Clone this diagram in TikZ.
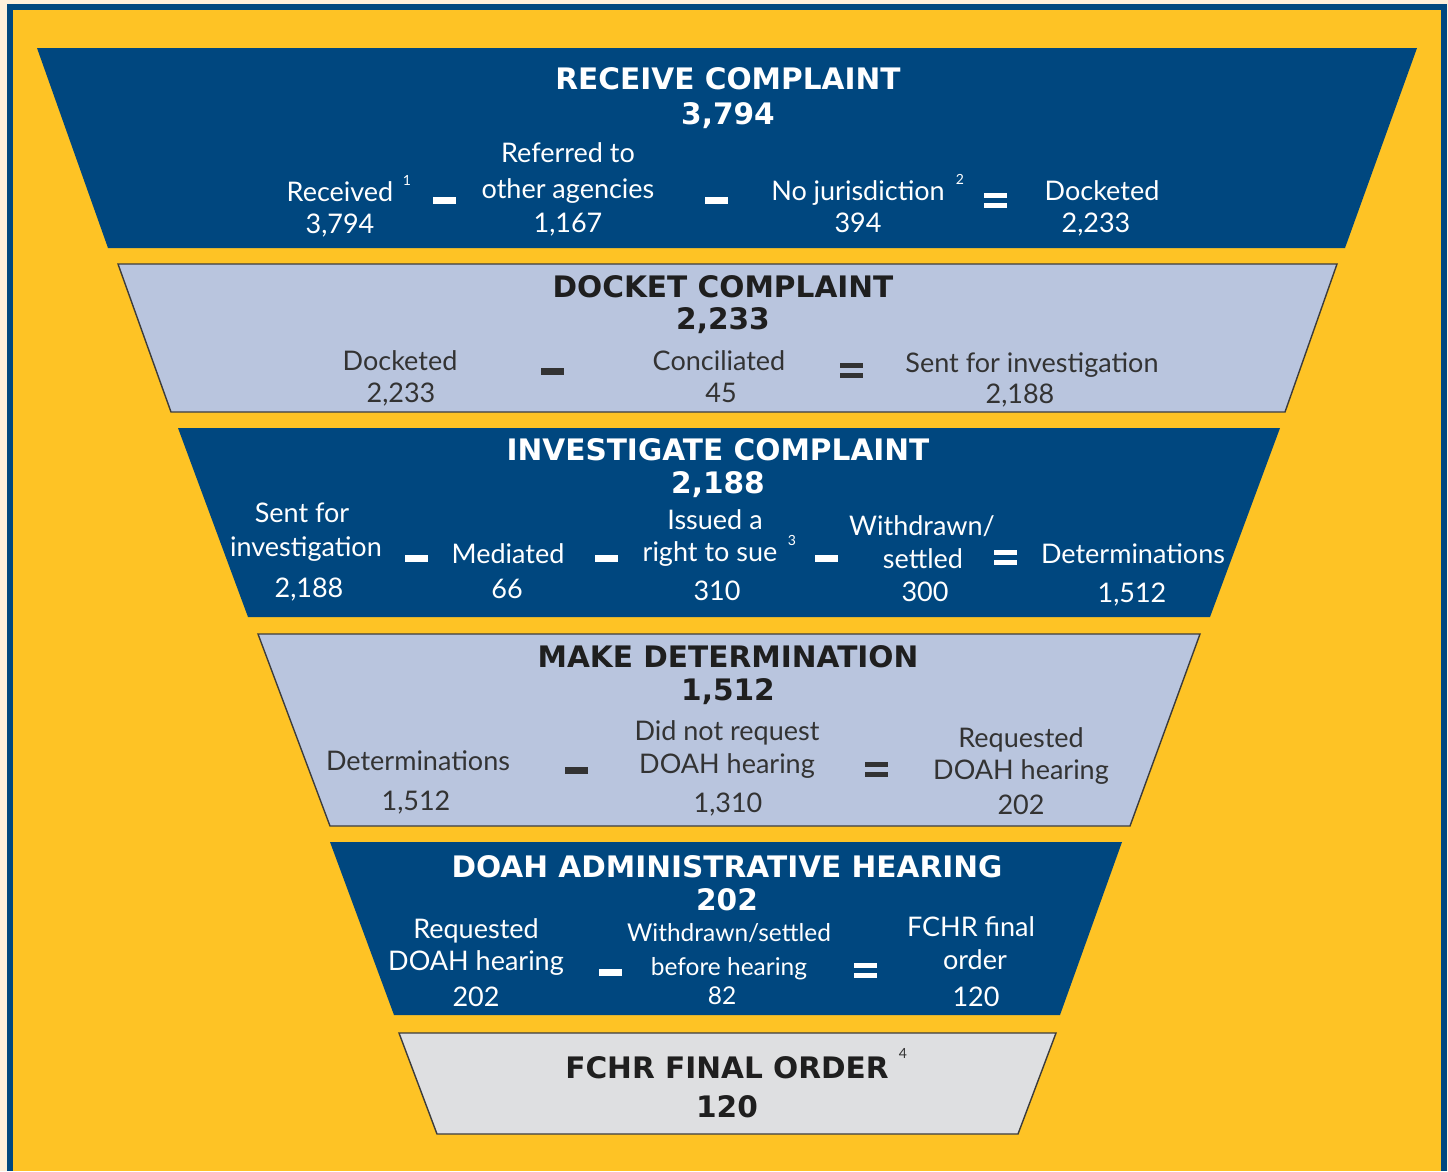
\documentclass[tikz,border=0pt]{standalone}
\usepackage{fontspec}
\setmainfont{Lato}
\newfontfamily\headfont{DejaVu Sans}
\definecolor{cream}{HTML}{FDEFDB}
\definecolor{gold}{HTML}{FEC325}
\definecolor{navy}{HTML}{00477F}
\definecolor{paleblue}{HTML}{B9C5DE}
\definecolor{palegray}{HTML}{DEDFE1}
\definecolor{ink}{HTML}{333333}
\definecolor{edge}{HTML}{3C3C3C}
\begin{document}
\begin{tikzpicture}[x=1pt,y=-1pt,
  darkstage/.style={fill=navy},
  lightstage/.style={fill=paleblue,draw=edge,line width=1.4pt},
  greystage/.style={fill=palegray,draw=edge,line width=1.4pt},
  head/.style={font=\headfont\bfseries\fontsize{29.6}{31}\selectfont,inner sep=0,anchor=base},
  body/.style={font=\fontsize{27}{30}\selectfont,inner sep=0,anchor=base},
  smallbody/.style={font=\fontsize{24.5}{27}\selectfont,inner sep=0,anchor=base},
  supnum/.style={font=\fontsize{14}{15}\selectfont,inner sep=0,anchor=base},
  minusbar/.style={inner sep=0,minimum width=23pt,minimum height=7pt},
  equalbar/.style={inner sep=0,minimum width=23pt,minimum height=5pt},
]
% page, frame and yellow field
\fill[cream] (0,0) rectangle (1448,1171);
\fill[navy] (7,4) rectangle (1447,1171);
\fill[gold] (13,10) rectangle (1441,1171);

% funnel stages
\fill[darkstage] (37,48) -- (1417,48) -- (1345,248) -- (108,248) -- cycle;
\filldraw[lightstage] (118,264) -- (1337,264) -- (1285,412) -- (171,412) -- cycle;
\fill[darkstage] (178,428) -- (1280,428) -- (1210,617) -- (248,617) -- cycle;
\filldraw[lightstage] (258,634) -- (1200,634) -- (1130,826) -- (330,826) -- cycle;
\fill[darkstage] (330,842) -- (1122,842) -- (1060,1015) -- (394,1015) -- cycle;
\filldraw[greystage] (399,1033) -- (1056,1033) -- (1018,1134) -- (437,1134) -- cycle;

% stage headings
\foreach \x/\y/\t [count=\i] in {
  728/89/RECEIVE COMPLAINT, 728/124/{3,794},
  718/460/INVESTIGATE COMPLAINT, 718/493/{2,188},
  727/877/DOAH ADMINISTRATIVE HEARING, 727/910/202}
  \node[head,text=white] (hw\i) at (\x,\y) {\t};
\foreach \x/\y/\t [count=\i] in {
  723/297/DOCKET COMPLAINT, 723/329/{2,233},
  728/667/MAKE DETERMINATION, 728/700/{1,512},
  727/1078/FCHR FINAL ORDER, 727/1117/120}
  \node[head,text=black!88] (hd\i) at (\x,\y) {\t};

% figures on the dark stages
\foreach \x/\y/\t [count=\i] in {
  340/201/Received, 340/233/{3,794},
  568/162/Referred to, 568/198/other agencies, 568/232/{1,167},
  858/200/No jurisdiction, 858/232/394,
  1102/200/Docketed, 1096/232/{2,233},
  302/522/Sent for, 306/556/investigation, 309/597/{2,188},
  508/563/Mediated, 507/598/66,
  715/529/Issued a, 710/561/right to sue, 717/600/310,
  922/535/{Withdrawn/}, 923/568/settled, 925/601/300,
  1133/563/Determinations, 1132/602/{1,512},
  476/938/Requested, 476/970/DOAH hearing, 476/1006/202,
  971/936/FCHR final, 975/969/order, 976/1006/120}
  \node[body,text=white] (tw\i) at (\x,\y) {\t};
\foreach \x/\y/\t [count=\i] in {
  729/941/{Withdrawn/settled}, 729/975/before hearing, 722/1004/82}
  \node[smallbody,text=white] (sw\i) at (\x,\y) {\t};

% figures on the light stages
\foreach \x/\y/\t [count=\i] in {
  400/370/Docketed, 401/402/{2,233},
  719/370/Conciliated, 721/402/45,
  1032/372/Sent for investigation, 1020/403/{2,188},
  418/770/Determinations, 416/810/{1,512},
  727/740/Did not request, 727/773/DOAH hearing, 728/812/{1,310},
  1021/747/Requested, 1021/779/DOAH hearing, 1021/814/202}
  \node[body,text=ink] (td\i) at (\x,\y) {\t};

% footnote marks
\foreach \x/\y/\t [count=\i] in {407/185/1, 960/184/2, 792/545/3}
  \node[supnum,text=white] (fw\i) at (\x,\y) {\t};
\node[supnum,text=ink] (fd1) at (903,1058) {4};

% minus signs
\foreach \x/\y [count=\i] in {444/200, 716/200, 416/558, 606/558, 826/558, 610/972}
  \node[minusbar,fill=white] (mw\i) at (\x,\y) {};
\foreach \x/\y [count=\i] in {552/371, 576/770}
  \node[minusbar,fill=ink] (md\i) at (\x,\y) {};

% equals signs
\foreach \x/\y [count=\i] in {995/200, 1005/557, 865/970} {
  \node[equalbar,fill=white] (eaw\i) at (\x,\y-5) {};
  \node[equalbar,fill=white] (ebw\i) at (\x,\y+5) {};
}
\foreach \x/\y [count=\i] in {851/370, 876/769} {
  \node[equalbar,fill=ink] (ead\i) at (\x,\y-5) {};
  \node[equalbar,fill=ink] (ebd\i) at (\x,\y+5) {};
}
\end{tikzpicture}
\end{document}
